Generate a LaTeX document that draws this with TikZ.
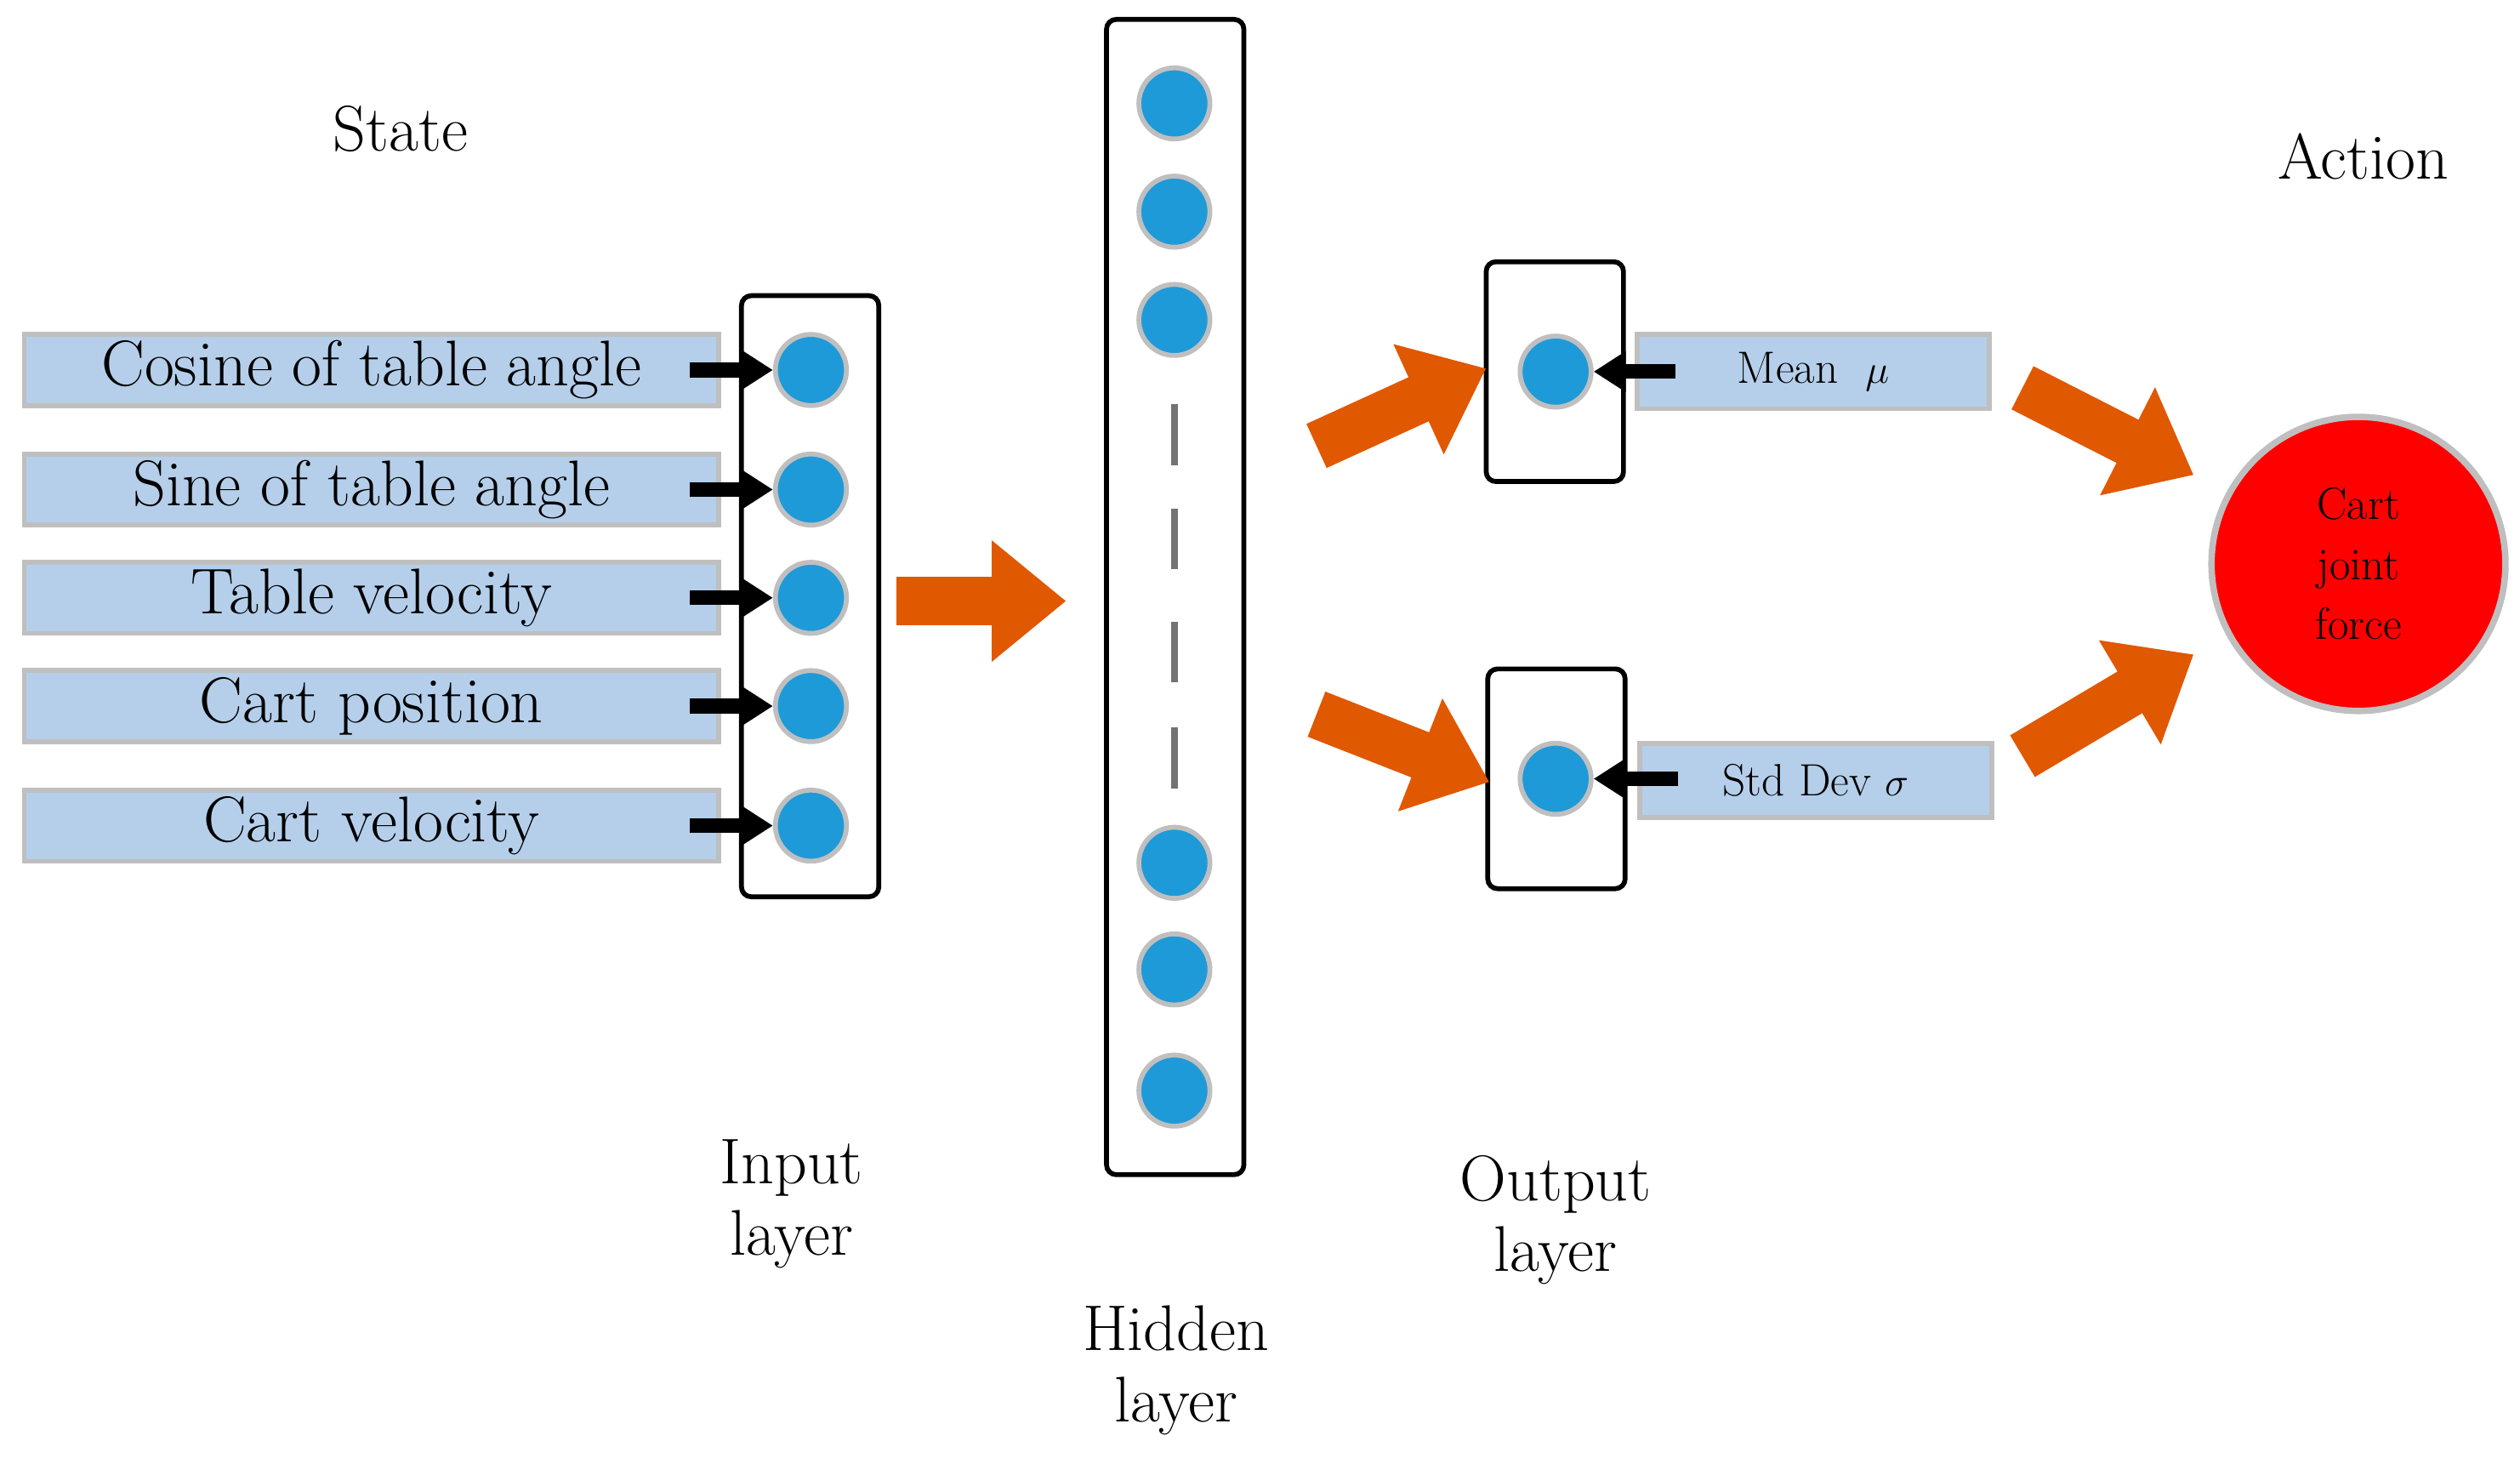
\documentclass[tikz,border=0pt]{standalone}
\usetikzlibrary{arrows.meta}
\definecolor{lb}{HTML}{B5CFEA}
\definecolor{nb}{HTML}{1F9AD8}
\definecolor{org}{HTML}{E05800}
\begin{document}
\begin{tikzpicture}[x=1pt,y=-1pt,
 lbl/.style={font=\fontsize{40}{44}\selectfont,align=center},
 inbox/.style={draw=black!25,line width=3pt,fill=lb,minimum width=430pt,minimum height=44pt,inner sep=0pt,font=\fontsize{40}{44}\selectfont},
 outbox/.style={draw=black!25,line width=3pt,fill=lb,minimum width=218pt,minimum height=46pt,inner sep=0pt,font=\fontsize{28}{32}\selectfont},
 neu/.style={circle,fill=nb,draw=black!25,line width=3pt,minimum size=44pt,inner sep=0pt},
 layer/.style={draw,line width=3pt,rounded corners=6pt},
 barr/.style={line width=9pt,-{Triangle[width=24pt,length=20pt]}},
 oarr/.style={org,line width=30pt,-{Triangle[width=72pt,length=46pt]}},
 dsh/.style={draw=black!55,line width=4pt}]
\useasboundingbox (0,0) rectangle (1560,906);
\node[lbl] (state) at (248,80) {State};
\node[lbl] (action) at (1463,97) {Action};
% input
\node[layer,minimum width=85pt,minimum height=372pt] (inl) at (501.5,369) {};
\foreach \y/\t/\n in {229/Cosine of table angle/a,303/Sine of table angle/b,370/Table velocity/c,437/Cart position/d,511/Cart velocity/e}{
 \node[inbox] (box\n) at (230,\y) {\t};
 \node[neu] (in\n) at (502,\y) {};
 \coordinate (s\n) at (427,\y);
 \draw[barr] (s\n) -- (in\n.west);
}
% hidden
\node[layer,minimum width=85pt,minimum height=715pt] (hid) at (727.5,369.5) {};
\foreach \y/\n in {64/1,131/2,198/3,534/4,600/5,675/6}{\node[neu] (h\n) at (727,\y) {};}
\foreach \a/\b/\n in {250/288/1,315/352/2,385/422/3,450/488/4}{
 \coordinate (da\n) at (727,\a); \coordinate (db\n) at (727,\b);
 \draw[dsh] (da\n) -- (db\n);}
% output
\node[layer,minimum width=85pt,minimum height=136pt] (o1) at (962.5,230) {};
\node[layer,minimum width=85pt,minimum height=136pt] (o2) at (963.5,482) {};
\node[neu] (n1) at (963,230) {};
\node[neu] (n2) at (963,482) {};
\node[outbox] (mean) at (1122.5,230) {Mean \ $\mu$};
\node[outbox] (std) at (1124,483) {Std Dev $\sigma$};
\coordinate (m0) at (1037,230); \coordinate (s0) at (1039,482);
\draw[barr] (m0) -- (n1.east);
\draw[barr] (s0) -- (n2.east);
% action
\node[circle,fill=red,draw=black!25,line width=4pt,minimum size=182pt,align=center,font=\fontsize{28}{37}\selectfont] (act) at (1460,349) {Cart\\joint\\force};
% orange arrows
\coordinate (a1) at (555,372); \coordinate (b1) at (660,372);
\coordinate (a2) at (815,276); \coordinate (b2) at (920,228);
\coordinate (a3) at (815,442); \coordinate (b3) at (922,484);
\coordinate (a4) at (1252,240); \coordinate (b4) at (1358,294);
\coordinate (a5) at (1252,468); \coordinate (b5) at (1358,405);
\foreach \i in {1,...,5}{\draw[oarr] (a\i) -- (b\i);}
% labels
\node[lbl] (il) at (490,745) {Input\\layer};
\node[lbl] (hl) at (728,848) {Hidden\\layer};
\node[lbl] (ol) at (963,755) {Output\\layer};
\end{tikzpicture}
\end{document}
